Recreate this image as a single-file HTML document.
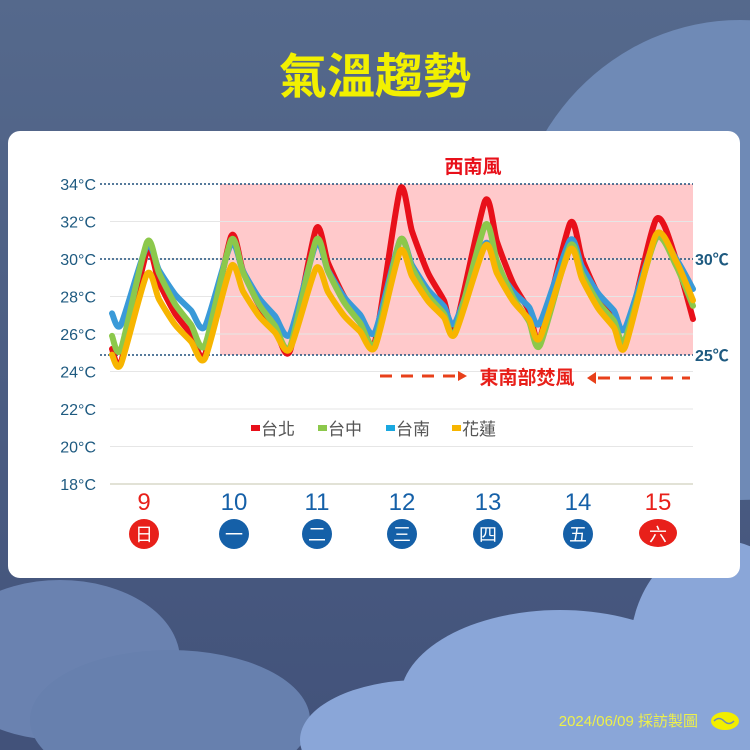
<!DOCTYPE html>
<html><head><meta charset="utf-8"><style>
html,body{margin:0;padding:0;width:750px;height:750px;overflow:hidden;background:#4c5d80}
svg{display:block;overflow:hidden}
text{font-family:"Liberation Sans","Noto Sans CJK TC",sans-serif}
</style></head><body>
<svg id="s" width="750" height="750" viewBox="0 0 750 750" xmlns="http://www.w3.org/2000/svg">
<defs>
<linearGradient id="bg" x1="0" y1="0" x2="0" y2="1">
<stop offset="0" stop-color="#55698c"/><stop offset="1" stop-color="#42527a"/>
</linearGradient>
</defs>
<rect width="750" height="750" fill="url(#bg)"/>
<ellipse cx="740" cy="260" rx="230" ry="240" fill="#6f8ab6"/>
<ellipse cx="60" cy="660" rx="120" ry="80" fill="#6a82b0"/>
<ellipse cx="170" cy="720" rx="140" ry="70" fill="#6780ae"/>
<ellipse cx="560" cy="700" rx="160" ry="90" fill="#8aa6d8"/>
<ellipse cx="420" cy="740" rx="120" ry="60" fill="#8aa6d8"/>
<ellipse cx="720" cy="650" rx="90" ry="110" fill="#8aa6d8"/>
<rect x="380" y="700" width="370" height="50" fill="#8aa6d8"/>
<text x="375" y="93" text-anchor="middle" font-size="48" font-weight="bold" fill="#f2f000">氣溫趨勢</text>
<rect x="8" y="131" width="732" height="447" rx="12" fill="#ffffff"/>
<rect x="220" y="184" width="473" height="171" fill="#ffc9cb"/>
<g id="grid" stroke="#e6e6e6" stroke-width="1"></g>
<line x1="110" y1="484" x2="693" y2="484" stroke="#d8d8c8" stroke-width="1.5"/>
<g stroke="#1e4f7a" stroke-width="1.5" stroke-dasharray="2,2">
<line x1="100" y1="184" x2="693" y2="184"/>
<line x1="100" y1="259" x2="693" y2="259"/>
<line x1="100" y1="355" x2="693" y2="355"/>
</g>
<g id="ticks" font-size="16" fill="#1e5a80" text-anchor="end"></g>
<text x="695" y="265" font-size="16" font-weight="bold" fill="#1e5a80">30℃</text>
<text x="695" y="361" font-size="16" font-weight="bold" fill="#1e5a80">25℃</text>
<text x="473" y="173" text-anchor="middle" font-size="19" font-weight="bold" fill="#e8101a">西南風</text>
<g id="series" fill="none" stroke-linejoin="round" stroke-linecap="round" stroke-width="6"></g>
<g stroke="#e8401a" stroke-width="3" stroke-dasharray="12,9">
<line x1="380" y1="376" x2="456" y2="376"/>
<line x1="598" y1="378" x2="690" y2="378"/>
</g>
<polygon points="458,371 467,376 458,381" fill="#e8401a"/>
<polygon points="596,372 587,378 596,384" fill="#e8401a"/>
<text x="527" y="384" text-anchor="middle" font-size="19" font-weight="bold" fill="#e8201a">東南部焚風</text>
<g font-size="17" fill="#555">
<rect x="251" y="425" width="9" height="6" fill="#e8101a"/><text x="261" y="435">台北</text>
<rect x="318" y="425" width="9" height="6" fill="#8cc84b"/><text x="328" y="435">台中</text>
<rect x="386" y="425" width="9" height="6" fill="#1aa8e0"/><text x="396" y="435">台南</text>
<rect x="452" y="425" width="9" height="6" fill="#f7b500"/><text x="462" y="435">花蓮</text>
</g>
<g id="days" font-size="24" text-anchor="middle"></g>
<text x="698" y="726" text-anchor="end" font-size="15" fill="#eef04a">2024/06/09 採訪製圖</text>
<ellipse cx="725" cy="721" rx="14" ry="9" fill="#f2ee00"/>
<path d="M714 721 q5 -5 10 0 q5 5 10 0" stroke="#6f8ab6" stroke-width="1.5" fill="none"/>
</svg>
<script>
var NS="http://www.w3.org/2000/svg";
function Y(t){return 184+(34-t)*18.75;}
function el(n,a,p,txt){var e=document.createElementNS(NS,n);for(var k in a)e.setAttribute(k,a[k]);if(txt)e.textContent=txt;document.getElementById(p).appendChild(e);return e;}
for(var t=18;t<=34;t+=2){
 if(t!=34) el("line",{x1:110,y1:Y(t),x2:693,y2:Y(t)},"grid");
 el("text",{x:96,y:Y(t)+6},"ticks",t+"°C");
}
var peaksX=[147,231,316,400,485,570,656], minsX=[205,290,375,455,540,625];
var S=[
 ["#f7b500",24.9,24.4,[29.2,29.6,29.5,30.4,30.7,30.5,31.3],[24.7,25.2,25.3,26.0,25.8,25.3],27.8],
 ["#8cc84b",25.9,25.2,[30.9,31.0,31.0,31.0,31.8,30.7,31.1],[25.4,25.3,25.5,26.1,25.4,25.7],27.5],
 ["#3a9ad8",27.1,26.5,[30.7,30.8,30.8,31.0,30.8,31.0,31.1],[26.4,26.0,26.1,26.6,26.6,26.3],28.4],
 ["#e8101a",25.2,24.5,[30.4,31.2,31.6,33.7,33.1,31.9,32.1],[24.9,25.1,25.6,26.3,25.8,25.6],26.8]
];
function smooth(P){
 var d="M"+P[0][0]+","+P[0][1];
 for(var i=0;i<P.length-1;i++){
  var p0=P[i-1]||P[i],p1=P[i],p2=P[i+1],p3=P[i+2]||p2,k=0.12;
  var c1=[p1[0]+(p2[0]-p0[0])*k,p1[1]+(p2[1]-p0[1])*k];
  var c2=[p2[0]-(p3[0]-p1[0])*k,p2[1]-(p3[1]-p1[1])*k];
  d+=" C"+c1[0].toFixed(1)+","+c1[1].toFixed(1)+" "+c2[0].toFixed(1)+","+c2[1].toFixed(1)+" "+p2[0]+","+p2[1].toFixed(1);
 }
 return d;
}
[3,2,1,0].forEach(function(i){
 var s=S[i],pts=[[112,s[1]],[121,s[2]]];
 for(var d=0;d<7;d++){
  var px=peaksX[d],pk=s[3][d];
  var nx=d<6?minsX[d]:693, nm=d<6?s[4][d]:s[5];
  pts.push([px,pk]);
  if(d<6){
   pts.push([px+12,nm+(pk-nm)*0.7]);
   pts.push([px+28,nm+(pk-nm)*0.4]);
   pts.push([px+44,nm+(pk-nm)*0.2]);
   pts.push([nx,nm]);
  } else {
   pts.push([px+20,nm+(pk-nm)*0.6]);
   pts.push([693,nm]);
  }
 }
 var P=pts.map(function(p){return [p[0],Y(p[1])]});
 el("path",{d:smooth(P),stroke:s[0]},"series");
});
var days=[[144,"9","日",1],[234,"10","一",0],[317,"11","二",0],[402,"12","三",0],[488,"13","四",0],[578,"14","五",0],[658,"15","六",1]];
days.forEach(function(a){
 var c=a[3]?"#e8201a":"#1560a8";
 el("text",{x:a[0],y:510,fill:c},"days",a[1]);
 if(a[3]&&a[1]=="15") el("ellipse",{cx:a[0],cy:533,rx:19,ry:14,fill:c},"days");
 else el("circle",{cx:a[0],cy:534,r:15,fill:c},"days");
 el("text",{x:a[0],y:541,fill:"#fff","font-size":18},"days",a[2]);
});
</script>
</body></html>
